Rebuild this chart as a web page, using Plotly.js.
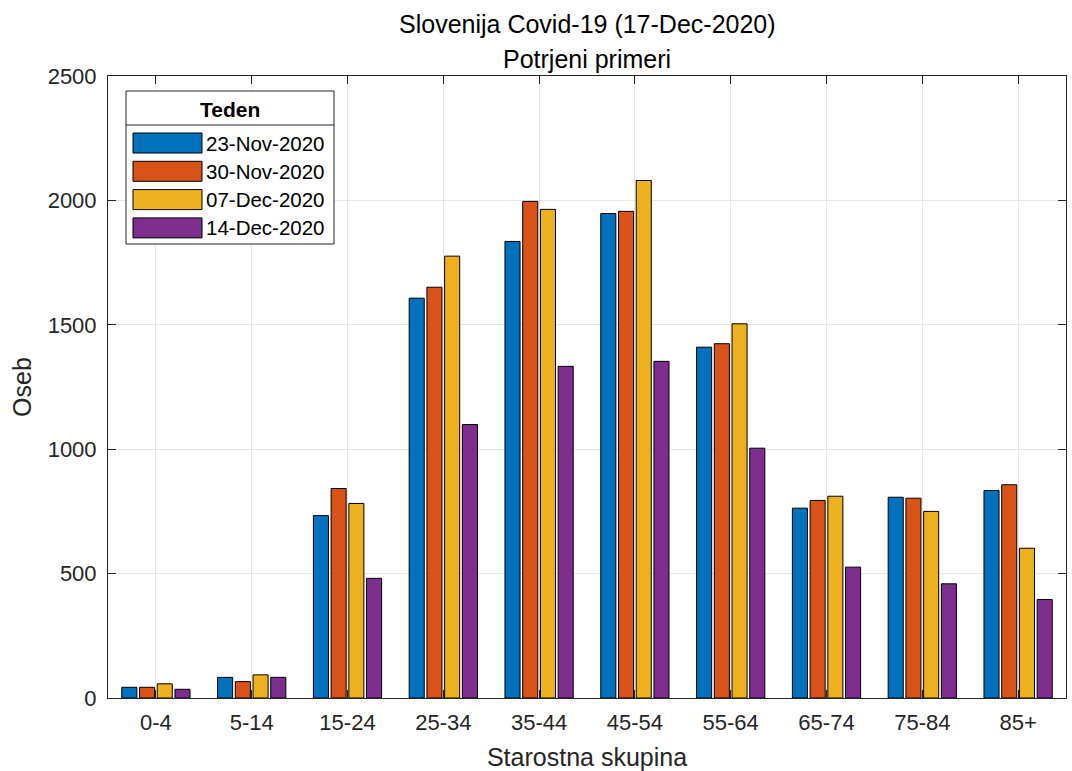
<!DOCTYPE html>
<html>
<head>
<meta charset="utf-8">
<script src="https://cdn.plot.ly/plotly-3.0.1.min.js"></script>
<style>html,body{margin:0;padding:0;background:#fff;}#chart{width:1072px;height:771px;}</style>
</head>
<body>
<div id="chart"></div>
<script>
const categories = ["0-4","5-14","15-24","25-34","35-44","45-54","55-64","65-74","75-84","85+"];
const seriesNames = ["23-Nov-2020","30-Nov-2020","07-Dec-2020","14-Dec-2020"];
const nov23 = [43, 83, 733, 1607, 1835, 1947, 1410, 763, 807, 834];
const nov30 = [43, 66, 842, 1651, 1996, 1956, 1424, 794, 803, 857];
const dec07 = [57, 93, 782, 1776, 1964, 2080, 1504, 811, 750, 602];
const dec14 = [35, 83, 481, 1099, 1333, 1353, 1004, 526, 459, 396];
const seriesValues = [nov23, nov30, dec07, dec14];
const colors = ["#0072BD","#D95319","#EDB120","#7E2F8E"];
const yTicks = [0, 500, 1000, 1500, 2000, 2500];

const font = "Liberation Sans, Arial, Helvetica, sans-serif";
const txt = "#262626";

const traces = seriesValues.map((vals, i) => ({
  type: "bar",
  x: categories,
  y: vals,
  name: seriesNames[i],
  marker: {color: colors[i], line: {color: "#000000", width: 1}},
  showlegend: false,
  hoverinfo: "x+y+name"
}));

// plot area in px
const L = 108, R = 1066, T = 76, B = 698;
const W = R - L, H = B - T;
const px = x => (x - L) / W;
const py = y => (B - y) / H;

const shapes = [];
const annotations = [];

// legend box
shapes.push({type: "rect", xref: "paper", yref: "paper", x0: px(126), x1: px(334), y0: py(244), y1: py(91),
  line: {color: txt, width: 1}, fillcolor: "#ffffff", layer: "above"});
shapes.push({type: "line", xref: "paper", yref: "paper", x0: px(126), x1: px(334), y0: py(125), y1: py(125),
  line: {color: txt, width: 1}, layer: "above"});
annotations.push({xref: "paper", yref: "paper", x: px(230), y: py(109), text: "<b>Teden</b>", showarrow: false,
  xanchor: "center", yanchor: "middle", font: {family: font, size: 21, color: "#000"}});
seriesNames.forEach((n, i) => {
  const top = 133 + i * 28.3;
  shapes.push({type: "rect", xref: "paper", yref: "paper", x0: px(133), x1: px(202), y0: py(top + 20), y1: py(top),
    line: {color: "#000", width: 1}, fillcolor: colors[i], layer: "above"});
  annotations.push({xref: "paper", yref: "paper", x: px(204), y: py(top + 10), text: n, showarrow: false,
    xanchor: "left", yanchor: "middle", font: {family: font, size: 20.5, color: "#000"}});
});

// titles
annotations.push({xref: "paper", yref: "paper", x: 0.5, y: py(24), text: "Slovenija Covid-19 (17-Dec-2020)", showarrow: false,
  xanchor: "center", yanchor: "middle", font: {family: font, size: 25, color: "#000"}});
annotations.push({xref: "paper", yref: "paper", x: 0.5, y: py(59), text: "Potrjeni primeri", showarrow: false,
  xanchor: "center", yanchor: "middle", font: {family: font, size: 25, color: "#000"}});

const layout = {
  width: 1072, height: 771,
  margin: {l: L, r: 1072 - R, t: T, b: 771 - B},
  paper_bgcolor: "#ffffff", plot_bgcolor: "#ffffff",
  font: {family: font, size: 22, color: txt},
  barmode: "group",
  bargap: 0.26,
  bargroupgap: 0.15,
  showlegend: false,
  xaxis: {
    type: "category",
    range: [-0.5, categories.length - 0.5],
    showline: true, linecolor: txt, linewidth: 1, mirror: "ticks",
    ticks: "inside", ticklen: 8, tickcolor: txt,
    ticklabelstandoff: 5,
    showgrid: true, gridcolor: "#e6e6e6", gridwidth: 1,
    tickfont: {family: font, size: 22, color: txt},
    title: {text: "Starostna skupina", font: {family: font, size: 25, color: txt}, standoff: 14},
    zeroline: false
  },
  yaxis: {
    range: [0, 2500],
    tickvals: yTicks,
    ticktext: yTicks.map(String),
    showline: true, linecolor: txt, linewidth: 1, mirror: "ticks",
    ticks: "inside", ticklen: 8, tickcolor: txt,
    ticklabelstandoff: 6,
    showgrid: true, gridcolor: "#e6e6e6", gridwidth: 1,
    tickfont: {family: font, size: 22, color: txt},
    title: {text: "Oseb", font: {family: font, size: 25, color: txt}, standoff: 8},
    zeroline: false
  },
  shapes: shapes,
  annotations: annotations
};

Plotly.newPlot("chart", traces, layout, {displayModeBar: false, staticPlot: true});
</script>
</body>
</html>
